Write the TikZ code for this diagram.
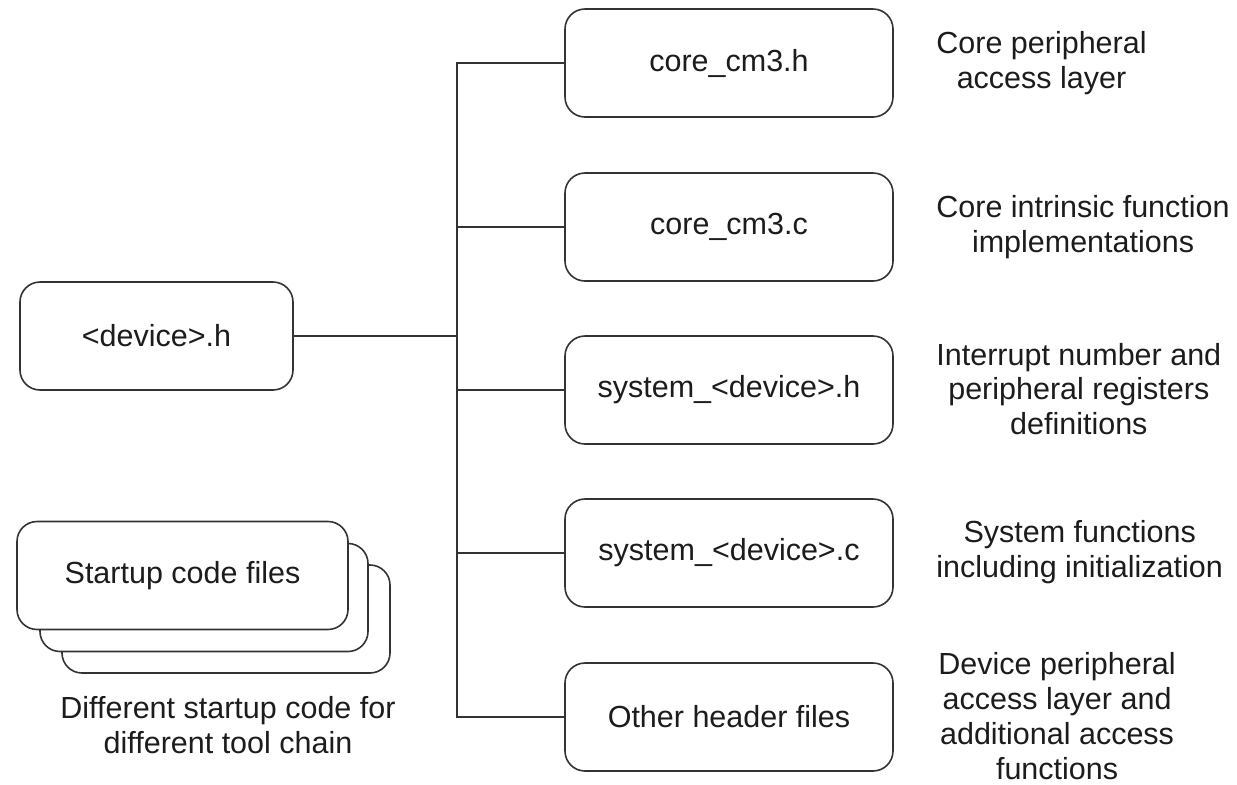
\documentclass[tikz,border=0pt]{standalone}
\usepackage{fontspec}
\setmainfont{Liberation Sans}
\definecolor{ink}{HTML}{1C1C1C}
\definecolor{wire}{HTML}{333333}
\tikzset{
  filebox/.style={draw=wire, line width=0.8pt, fill=white, rounded corners=10pt,
    minimum width=164pt, minimum height=54pt, inner sep=0pt, text=ink,
    font=\fontsize{15.25pt}{17.25pt}\selectfont},
  note/.style={align=center, inner sep=0pt, text=ink,
    font=\fontsize{15.25pt}{17.4pt}\selectfont},
  link/.style={draw=wire, line width=0.8pt}
}
\begin{document}
\begin{tikzpicture}[x=0.5pt,y=-0.5pt]
\useasboundingbox (0,0) rectangle (1237,784);

% main header and its bus
\node[filebox, minimum width=136.5pt] (dev) at (156.5,336) {<device>.h};
\coordinate (bus) at (457,0);

% files pulled in by <device>.h
\node[filebox] (cmh) at (729,63)  {core\_cm3.h};
\node[filebox] (cmc) at (729,227) {core\_cm3.c};
\node[filebox] (sysh) at (729,390) {system\_<device>.h};
\node[filebox] (sysc) at (729,553) {system\_<device>.c};
\node[filebox] (oth) at (729,717) {Other header files};

\draw[link] (cmh.west) -- (cmh.west -| bus) -- (oth.west -| bus) -- (oth.west);
\draw[link] (cmc.west) -- (cmc.west -| bus);
\draw[link] (sysh.west) -- (sysh.west -| bus);
\draw[link] (sysc.west) -- (sysc.west -| bus);
\draw[link] (dev.east) -- (dev.east -| bus);

% descriptions
\node[note, anchor=west] (d1) at (936,63)  {Core peripheral\\access layer};
\node[note, anchor=west] (d2) at (936,227) {Core intrinsic function\\implementations};
\node[note, anchor=west] (d3) at (936,389) {Interrupt number and\\peripheral registers\\definitions};
\node[note, anchor=west] (d4) at (936,552) {System functions\\including initialization};
\node[note, anchor=west] (d5) at (938,716) {Device peripheral\\access layer and\\additional access\\functions};

% stack of startup files
\node[filebox] (st3) at (226,619) {};
\node[filebox] (st2) at (204,597.5) {};
\node[filebox, minimum width=165.5pt] (st1) at (182.5,575.5) {Startup code files};
\node[note] (stc) at (228,725) {Different startup code for\\different tool chain};
\end{tikzpicture}
\end{document}
